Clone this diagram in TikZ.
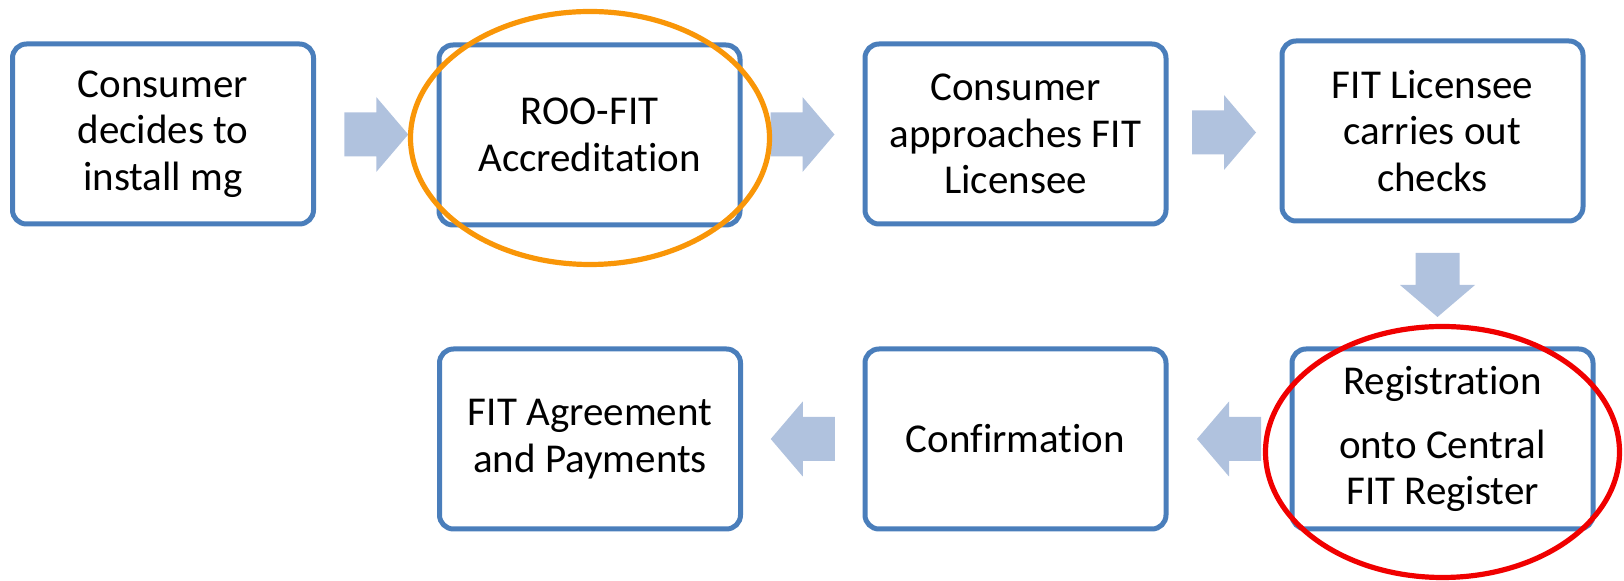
\documentclass[tikz,border=0pt]{standalone}
\usepackage{fontspec}
\setmainfont[Ligatures={NoCommon}]{Carlito}
\usetikzlibrary{calc}

\definecolor{boxblue}{RGB}{74,126,187}
\definecolor{arrowblue}{RGB}{176,194,222}
\definecolor{ringorange}{RGB}{249,150,8}
\definecolor{ringred}{RGB}{240,0,0}

\tikzset{
    stepbox/.style={draw=boxblue, line width=2.5pt, rounded corners=7pt,
        minimum width=150.5pt, minimum height=90pt, inner sep=0pt,
        align=center, font=\fontsize{20.5}{23.3}\selectfont},
    flowarrow/.pic={\fill[arrowblue] (-32,-22) -- (0,-22) -- (0,-37.5) -- (32,0)
        -- (0,37.5) -- (0,22) -- (-32,22) -- cycle;},
    ring/.style={line width=2.6pt}
}

\begin{document}
\begin{tikzpicture}[x=0.5pt,y=-0.5pt]
    \useasboundingbox (0,0) rectangle (1624,581);

    % first row
    \node[stepbox] (decide) at (163,134) {Consumer\\decides to\\install mg};
    \node[stepbox] (accredit) at (589.5,135) {ROO-FIT\\Accreditation};
    \node[stepbox] (approach) at (1015.5,134) {Consumer\\approaches FIT\\Licensee};
    \node[stepbox] (checks) at (1432.5,131) {FIT Licensee\\carries out\\checks};

    % second row
    \node[stepbox] (register) at (1442.5,439) {Registration\\[8.7pt]onto Central\\FIT Register};
    \node[stepbox] (confirm) at (1015.5,439) {Confirmation};
    \node[stepbox] (payments) at (590,439) {FIT Agreement\\and Payments};

    % arrows
    \pic at ($(decide.east)!0.5!(accredit.west)$) {flowarrow};
    \pic at ($(accredit.east)!0.5!(approach.west)$) {flowarrow};
    \pic at ($(approach.east)!0.5!(checks.west)$) {flowarrow};
    \pic[rotate=-90] at ($(checks.south)!0.5!(register.north)$) {flowarrow};
    \pic[rotate=180] at ($(register.west)!0.5!(confirm.east)$) {flowarrow};
    \pic[rotate=180] at ($(confirm.west)!0.5!(payments.east)$) {flowarrow};

    % highlight rings
    \draw[ring, ringorange] ($(accredit)+(0.5,3)$) ellipse [x radius=179.5, y radius=126.5];
    \draw[ring, ringred] ($(register)+(0,13)$) ellipse [x radius=177, y radius=125.5];
\end{tikzpicture}
\end{document}
